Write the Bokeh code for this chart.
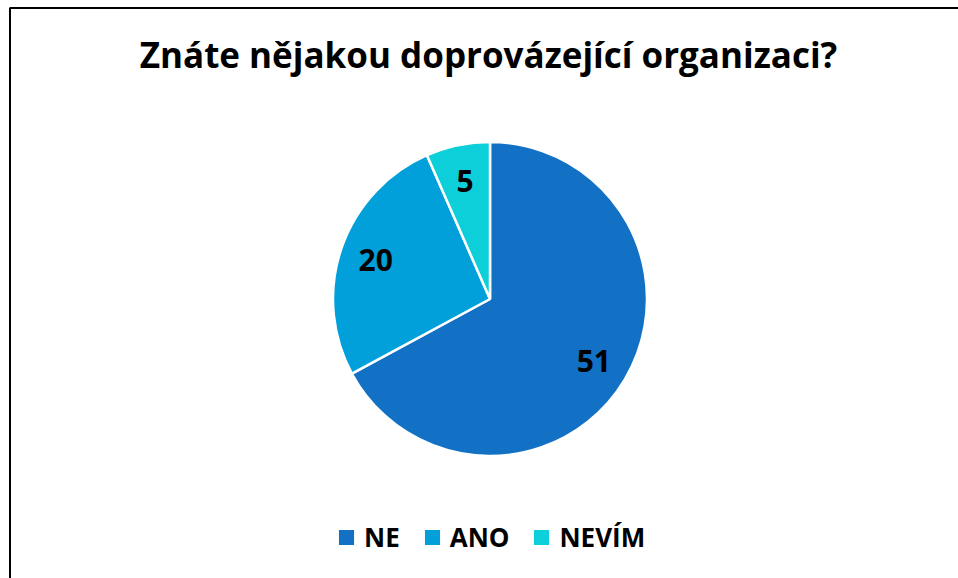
import numpy as np
from bokeh.plotting import figure
from bokeh.models import ColumnDataSource, Range1d, BoxAnnotation
from bokeh.embed import file_html
from bokeh.resources import INLINE
from bokeh.core.properties import value

# ---- data ----
categories = ["NE", "ANO", "NEVÍM"]
counts = [51, 20, 5]
colors = ["#1270C5", "#01A0DA", "#0DCFD9"]
title_text = "Znáte nějakou doprovázející organizaci?"

# ---- layout (data units == pixels) ----
W, H = 958, 578
cx, cy, R = 489.5, 279.5, 157.0
FONT = "Open Sans"

vals = np.array(counts, dtype=float)
frac = vals / vals.sum()
cum_end = np.cumsum(frac)
cum_start = cum_end - frac
start_angle = np.pi / 2 - 2 * np.pi * cum_start
end_angle = np.pi / 2 - 2 * np.pi * cum_end
mid = (start_angle + end_angle) / 2
lr = 0.77 * R

src = ColumnDataSource(dict(
    cat=categories,
    count=counts,
    label=[str(c) for c in counts],
    color=colors,
    start=start_angle,
    end=end_angle,
    lx=cx + lr * np.cos(mid),
    ly=cy + lr * np.sin(mid),
))

p = figure(width=W, height=H, x_range=Range1d(0, W), y_range=Range1d(0, H),
           output_backend="svg", toolbar_location=None,
           x_axis_location=None, y_axis_location=None,
           min_border=0, background_fill_color="white", border_fill_color="white")
p.grid.visible = False
p.outline_line_color = None

p.wedge(x=cx, y=cy, radius=R, start_angle="start", end_angle="end",
        direction="clock", fill_color="color", line_color="white",
        line_width=2.5, source=src, legend_field="cat")

p.text(x="lx", y="ly", text="label", source=src, text_align="center",
       text_baseline="middle", text_font=value(FONT), text_font_style="bold",
       text_font_size="30px", text_color="black")

p.text(x=[488], y=[H - 54], text=[title_text], text_align="center",
       text_baseline="alphabetic", text_font=value(FONT), text_font_style="bold",
       text_font_size="35px", text_color="black")

# chart-area border (only left & top edges fall inside the window)
p.add_layout(BoxAnnotation(left=9.5, right=W + 20, bottom=-20, top=H - 7.5,
                           fill_alpha=0, line_color="black", line_alpha=1.0,
                           line_width=2))

lg = p.legend[0]
lg.orientation = "horizontal"
lg.location = (335, 23)
lg.glyph_width = 22
lg.glyph_height = 22
lg.label_standoff = 7
lg.spacing = 21
lg.padding = 0
lg.margin = 0
lg.border_line_color = None
lg.background_fill_alpha = 0
lg.label_text_font = FONT
lg.label_text_font_style = "bold"
lg.label_text_font_size = "26px"
lg.label_text_color = "black"

open("out.html", "w").write(file_html(p, INLINE))
